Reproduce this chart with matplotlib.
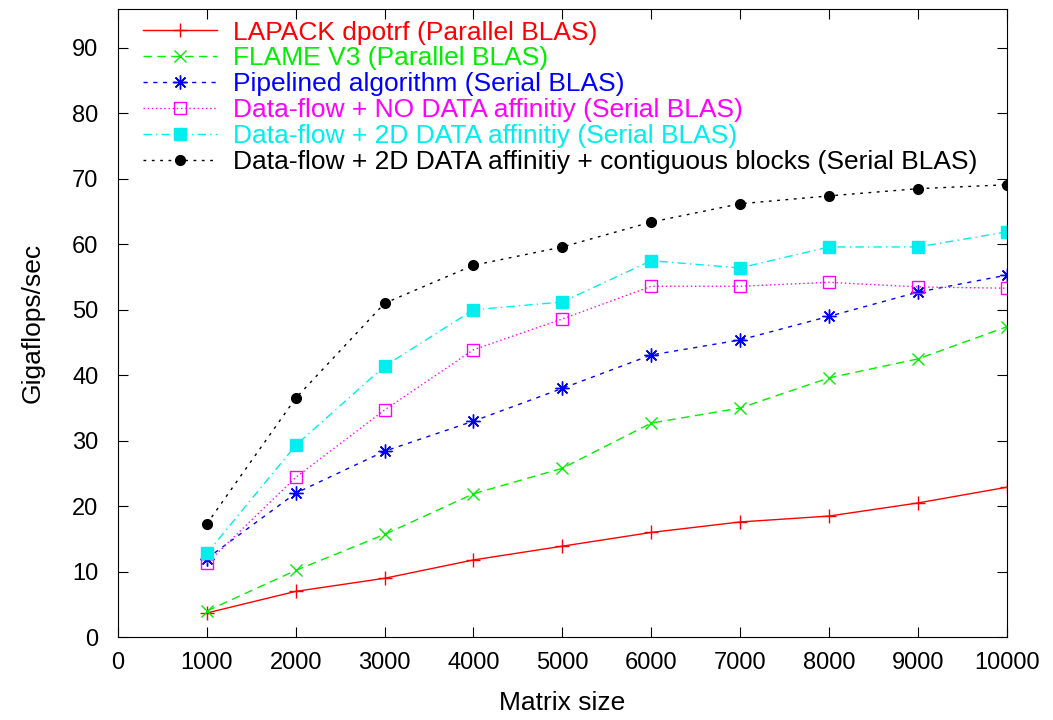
import matplotlib
matplotlib.use('Agg')
import matplotlib.pyplot as plt

plt.rcParams['font.family'] = ['Liberation Sans', 'DejaVu Sans']

# matrix sizes
sizes = [1000, 2000, 3000, 4000, 5000, 6000, 7000, 8000, 9000, 10000]

# Gigaflops/sec for each variant
lapack = [3.7, 7.0, 9.0, 11.8, 13.9, 16.0, 17.6, 18.5, 20.5, 22.9]
flame = [4.0, 10.2, 15.7, 21.9, 25.8, 32.7, 35.0, 39.6, 42.5, 47.4]
pipelined = [12.0, 22.0, 28.4, 33.0, 38.0, 43.1, 45.4, 49.0, 52.7, 55.3]
df_noaff = [11.3, 24.4, 34.7, 43.9, 48.6, 53.6, 53.6, 54.2, 53.5, 53.3]
df_2d = [12.8, 29.3, 41.4, 50.0, 51.2, 57.5, 56.4, 59.6, 59.6, 61.9]
df_2d_contig = [17.3, 36.5, 51.0, 56.8, 59.6, 63.4, 66.2, 67.4, 68.5, 69.1]

labels = ['LAPACK dpotrf (Parallel BLAS)',
          'FLAME V3 (Parallel BLAS)',
          'Pipelined algorithm (Serial BLAS)',
          'Data-flow + NO DATA affinitiy (Serial BLAS)',
          'Data-flow + 2D DATA affinitiy (Serial BLAS)',
          'Data-flow + 2D DATA affinitiy + contiguous blocks (Serial BLAS)']

fig = plt.figure(figsize=(10.53, 7.2), dpi=100)
ax = fig.add_axes([0.112, 0.115, 0.844, 0.873])

ax.plot(sizes, lapack, color='#ff0000', ls='-', lw=1, marker='+', ms=10, mew=1)
ax.plot(sizes, flame, color='#00ee00', ls=(0, (6, 4)), lw=1, marker='x', ms=9, mew=1)
ax.plot(sizes, pipelined, color='#0000ff', ls=(0, (3, 4)), lw=1, marker=(8, 2, 0), ms=10, mew=1)
ax.plot(sizes, df_noaff, color='#ff00ff', ls=(0, (1, 2)), lw=1, marker='s', ms=8,
        mfc='none', mew=1)
ax.plot(sizes, df_2d, color='#00eeee', ls=(0, (6, 3, 1, 3)), lw=1, marker='s', ms=8)
ax.plot(sizes, df_2d_contig, color='black', ls=(0, (2, 4)), lw=1, marker='o', ms=7)

ax.set_xlim(0, 10000)
ax.set_ylim(0, 96)
ax.set_xticks(range(0, 10001, 1000))
ax.set_yticks(range(0, 91, 10))
ax.tick_params(direction='in', top=True, right=True, labelsize=17, length=7)
ax.tick_params(axis='x', pad=11)
ax.tick_params(axis='y', pad=14)
ax.set_xlabel('Matrix size', fontsize=19, labelpad=12)
ax.set_ylabel('Gigaflops/sec', fontsize=19, labelpad=20)

leg = ax.legend(labels, loc='upper left', frameon=False, fontsize=19, handlelength=2.8,
                handletextpad=0.6, labelspacing=0.07, borderaxespad=0.05,
                bbox_to_anchor=(0.015, 1.0))
for text, line in zip(leg.get_texts(), ax.get_lines()):
    text.set_color(line.get_color())

plt.savefig('out.png', dpi=100)
